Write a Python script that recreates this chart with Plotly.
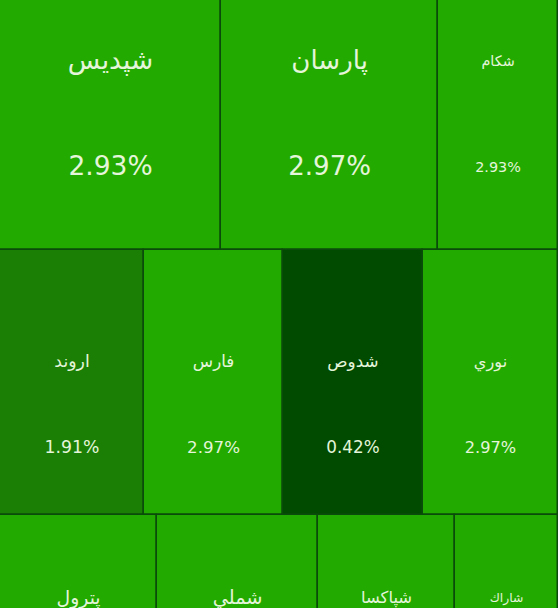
import plotly.graph_objects as go

# ---- data ----
symbols = ["شپدیس", "پارسان", "شکام",
           "اروند", "فارس", "شدوص", "نوري",
           "پترول", "شملي", "شپاکسا", "شاراك"]
change_pct = [2.93, 2.97, 2.93,
              1.91, 2.97, 0.42, 2.97,
              2.95, 2.95, 2.95, 2.95]
size_value = [72.3, 71.0, 39.2,
              38.2, 36.8, 37.1, 35.8,
              31.1, 31.9, 27.1, 20.4]
row_of = [0, 0, 0,
          1, 1, 1, 1,
          2, 2, 2, 2]

# ---- layout constants ----
FIG_W, FIG_H = 558, 608
AREA_PER_UNIT = 1000.0      # px^2 per size unit
SCROLL_OFFSET = 77          # the view is scrolled down a bit
NAME_FRAC, PCT_FRAC = 0.425, 0.75
FONT_K = 0.12
BORDER = "#0a4a0a"
TEXT_COLOR = "#e4f5da"
FONT = "'DejaVu Sans', sans-serif"

# ---- simple row treemap layout computed from the values ----
n_rows = max(row_of) + 1
row_sum = [sum(v for v, r in zip(size_value, row_of) if r == k) for k in range(n_rows)]
row_h = [s * AREA_PER_UNIT / FIG_W for s in row_sum]
row_top = []
acc = 0.0
for h in row_h:
    row_top.append(acc)
    acc += h

lefts, widths, ycent, heights = [], [], [], []
cursor = [0.0] * n_rows
for v, r in zip(size_value, row_of):
    w = v / row_sum[r] * FIG_W
    lefts.append(cursor[r])
    widths.append(w)
    cursor[r] += w
    ycent.append(row_top[r] + row_h[r] / 2)
    heights.append(row_h[r])

fig = go.Figure()
fig.add_trace(go.Bar(
    orientation="h",
    y=ycent, x=widths, base=lefts, width=heights,
    marker=dict(
        color=change_pct, cmin=0, cmax=2.93,
        colorscale=[[0.0, "#003c00"], [0.143, "#004b00"],
                    [0.652, "#1b7f06"], [1.0, "#22aa00"]],
        line=dict(color=BORDER, width=1.5),
    ),
    hoverinfo="skip", showlegend=False,
))

cx = [l + w / 2 for l, w in zip(lefts, widths)]
tops = [row_top[r] for r in row_of]
fsz = [FONT_K * min(w, h) for w, h in zip(widths, heights)]

fig.add_trace(go.Scatter(
    x=cx, y=[t + NAME_FRAC * h for t, h in zip(tops, heights)],
    mode="text", text=symbols, textposition="middle center",
    textfont=dict(family=FONT, size=fsz, color=TEXT_COLOR),
    hoverinfo="skip", showlegend=False, cliponaxis=True,
))
fig.add_trace(go.Scatter(
    x=cx, y=[t + PCT_FRAC * h for t, h in zip(tops, heights)],
    mode="text", text=[f"{p:.2f}%" for p in change_pct],
    textposition="middle center",
    textfont=dict(family=FONT, size=fsz, color=TEXT_COLOR),
    hoverinfo="skip", showlegend=False, cliponaxis=True,
))

fig.update_layout(
    width=FIG_W, height=FIG_H,
    margin=dict(l=0, r=0, t=0, b=0),
    paper_bgcolor="#22aa00", plot_bgcolor="#22aa00",
    xaxis=dict(range=[0, FIG_W], visible=False, fixedrange=True),
    yaxis=dict(range=[SCROLL_OFFSET + FIG_H, SCROLL_OFFSET], visible=False, fixedrange=True),
    bargap=0,
)

fig.write_html(
    "out.html",
    config={"displayModeBar": False},
    post_script="document.body.style.margin='0';document.body.style.overflow='hidden';",
)
